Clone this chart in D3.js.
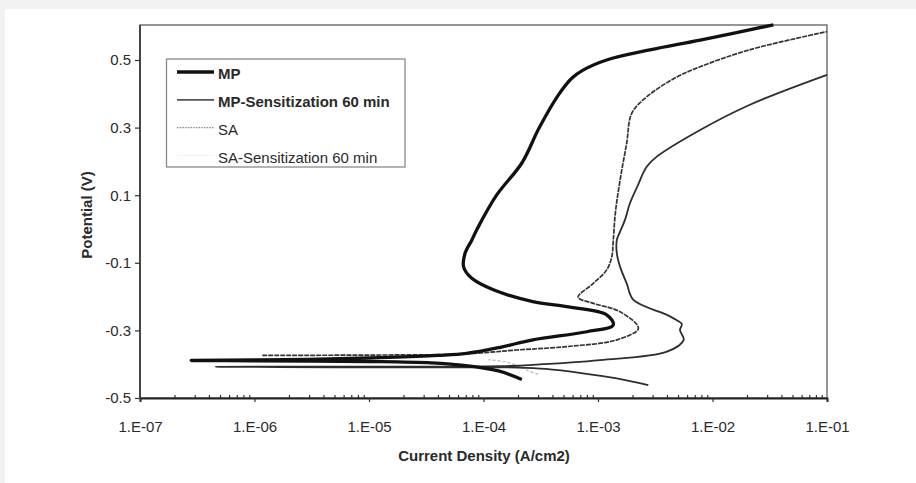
<!DOCTYPE html>
<html><head><meta charset="utf-8">
<script src="https://cdn.jsdelivr.net/npm/d3@7"></script>
<style>
html,body{margin:0;padding:0;background:#f2f2f2;}
svg{display:block;}
text{font-family:"Liberation Sans",Arial,sans-serif;fill:#2a2a2a;}
</style></head>
<body>
<svg id="chart" width="916" height="483"></svg>
<script>
// ---- data (current density A/cm2, potential V) ----
const seriesNames = ["MP", "MP-Sensitization 60 min", "SA", "SA-Sensitization 60 min"];
const xTickValues = [1e-7, 1e-6, 1e-5, 1e-4, 1e-3, 1e-2, 1e-1];
const xTickLabels = ["1.E-07", "1.E-06", "1.E-05", "1.E-04", "1.E-03", "1.E-02", "1.E-01"];
const yTickValues = [-0.5, -0.3, -0.1, 0.1, 0.3, 0.5];
const yTickLabels = ["-0.5", "-0.3", "-0.1", "0.1", "0.3", "0.5"];

const MP = [
  [2.16e-4,-0.445],[1.35e-4,-0.42],[7e-5,-0.404],[3.5e-5,-0.396],[1e-5,-0.392],[1e-6,-0.39],[2.8e-7,-0.389],
  [3e-6,-0.386],[1.5e-5,-0.38],[4e-5,-0.374],[7.1e-5,-0.368],[1.4e-4,-0.35],[2.7e-4,-0.328],[8e-4,-0.304],
  [1.36e-3,-0.284],[1.19e-3,-0.254],[5.3e-4,-0.23],[2.7e-4,-0.215],[1.22e-4,-0.18],[7.9e-5,-0.146],
  [6.7e-5,-0.112],[6.9e-5,-0.072],[7.9e-5,-0.033],[8.8e-5,0.0],[1.3e-4,0.1],[2.17e-4,0.196],[3.05e-4,0.298],
  [4.5e-4,0.396],[5.9e-4,0.446],[7.4e-4,0.47],[1.19e-3,0.5],[2.84e-3,0.53],[7.8e-3,0.559],[3.4e-2,0.604]
];
const MP_Sens = [
  [2.75e-3,-0.462],[1.46e-3,-0.442],[7.4e-4,-0.427],[3.5e-4,-0.414],[2e-4,-0.41],[5e-5,-0.409],[5e-6,-0.409],[4.6e-7,-0.408],
  [5e-6,-0.407],[5e-5,-0.407],[1.4e-4,-0.406],[2.7e-4,-0.402],[1.04e-3,-0.388],[4e-3,-0.363],[5.6e-3,-0.328],
  [5.2e-3,-0.299],[5.4e-3,-0.281],[5e-3,-0.272],[4e-3,-0.254],[2.04e-3,-0.21],[1.78e-3,-0.161],[1.56e-3,-0.112],
  [1.46e-3,-0.072],[1.46e-3,-0.033],[1.55e-3,-0.01],[1.72e-3,0.027],[1.9e-3,0.076],[2.2e-3,0.125],[2.66e-3,0.184],
  [3.26e-3,0.214],[7.8e-3,0.293],[2.1e-2,0.367],[1e-1,0.456]
];
const SA = [
  [1.17e-6,-0.374],[1e-5,-0.373],[5e-5,-0.371],[1e-4,-0.366],[1.95e-4,-0.358],[5.3e-4,-0.348],[1.46e-3,-0.328],
  [2.25e-3,-0.294],[1.56e-3,-0.245],[9.1e-4,-0.22],[6.7e-4,-0.202],[9.1e-4,-0.161],[1.19e-3,-0.121],[1.32e-3,-0.082],
  [1.36e-3,-0.033],[1.42e-3,0.05],[1.56e-3,0.145],[1.78e-3,0.254],[1.97e-3,0.342],[2.66e-3,0.391],[4.9e-3,0.45],
  [7.8e-3,0.48],[2.1e-2,0.53],[1e-1,0.584]
];
const SA_Sens = [
  [3e-4,-0.43],[2.4e-4,-0.418],[2e-4,-0.405],[1.5e-4,-0.392],[1.1e-4,-0.387]
];
const seriesData = [MP, MP_Sens, SA, SA_Sens];
const seriesStyle = [
  {stroke:"#111", width:3.3, dash:null},
  {stroke:"#2e2e2e", width:1.8, dash:null},
  {stroke:"#333", width:1.7, dash:"5,1"},
  {stroke:"#b8b8b8", width:1.2, dash:"3,2"}
];

// ---- layout ----
const svg = d3.select("#chart");
svg.append("rect").attr("x",5).attr("y",9).attr("width",911).attr("height",474).attr("fill","#fff");

const L = 140, R = 827, T = 25, B = 398;
const x = d3.scaleLog().domain([1e-7, 1e-1]).range([L, R]);
const y = d3.scaleLinear().domain([-0.5, 0.6]).range([B, T + 1.2]);

// frame
svg.append("rect").attr("x",L).attr("y",T).attr("width",R-L).attr("height",B-T)
  .attr("fill","none").attr("stroke","#6a6a6a").attr("stroke-width",1.4);

// curves
const line = d3.line().x(d => x(d[0])).y(d => y(d[1])).curve(d3.curveCatmullRom.alpha(0.5));
const g = svg.append("g");
[3,2,1,0].forEach(i => {
  const s = seriesStyle[i];
  g.append("path").datum(seriesData[i]).attr("d", line)
    .attr("fill","none").attr("stroke",s.stroke).attr("stroke-width",s.width)
    .attr("stroke-dasharray", s.dash).attr("stroke-linejoin","round");
});

// x axis
const minor = [];
for (let e = -7; e < -1; e++) for (let k = 2; k <= 9; k++) minor.push(k * Math.pow(10, e));
const xAxis = svg.append("g").attr("transform", `translate(0,${B})`);
xAxis.append("g").call(d3.axisBottom(x).tickValues(minor).tickSize(-3).tickFormat(""))
  .call(a => a.select(".domain").remove())
  .call(a => a.selectAll("line").attr("stroke","#333").attr("stroke-width",1.2));
xAxis.append("g").call(d3.axisBottom(x).tickValues(xTickValues).tickSize(4)
    .tickFormat((d,i) => xTickLabels[i]).tickPadding(19))
  .call(a => a.select(".domain").attr("stroke","#222").attr("stroke-width",2))
  .call(a => a.selectAll("line").attr("stroke","#333").attr("stroke-width",1.2))
  .call(a => a.selectAll("text").style("font-size","15px").attr("fill","#333"));

// y axis
const yAxis = svg.append("g").attr("transform", `translate(${L},0)`);
yAxis.call(d3.axisLeft(y).tickValues(yTickValues).tickSize(5).tickPadding(4)
    .tickFormat((d,i) => yTickLabels[i]))
  .call(a => a.select(".domain").attr("d", `M0,${B}V${T}`).attr("stroke","#333").attr("stroke-width",1.6))
  .call(a => a.selectAll("line").attr("stroke","#333").attr("stroke-width",1.2))
  .call(a => a.selectAll("text").style("font-size","15px").attr("fill","#333"));

// axis titles
svg.append("text").attr("x",484).attr("y",460.5).attr("text-anchor","middle")
  .style("font-size","15px").style("font-weight","bold").attr("fill","#333")
  .text("Current Density (A/cm2)");
svg.append("text").attr("transform","translate(91.5,215) rotate(-90)").attr("text-anchor","middle")
  .style("font-size","15px").style("font-weight","bold").attr("fill","#333")
  .text("Potential (V)");

// legend
const lg = svg.append("g");
lg.append("rect").attr("x",166.5).attr("y",59).attr("width",238.5).attr("height",108)
  .attr("fill","#fff").attr("stroke","#8a8a8a").attr("stroke-width",1.3);
seriesNames.forEach((n,i) => {
  const cy = 74 + i*27.8;
  const s = seriesStyle[i];
  if (i < 3) {
    lg.append("line").attr("x1",177).attr("x2",214).attr("y1",cy-2).attr("y2",cy-2)
      .attr("stroke", i===2 ? "#888" : (i===1 ? "#555" : s.stroke)).attr("stroke-width", i===2 ? 1.4 : s.width)
      .attr("stroke-dasharray", i===2 ? "1.5,1.2" : s.dash);
  } else {
    lg.append("line").attr("x1",177).attr("x2",214).attr("y1",cy-2).attr("y2",cy-2)
      .attr("stroke","#f4f4f4").attr("stroke-width",1);
  }
  lg.append("text").attr("x",218).attr("y",cy+5.4)
    .style("font-size","15px").style("font-weight", i<2 ? "bold" : "normal").attr("fill","#2a2a2a")
    .text(n);
});
</script>
</body></html>
